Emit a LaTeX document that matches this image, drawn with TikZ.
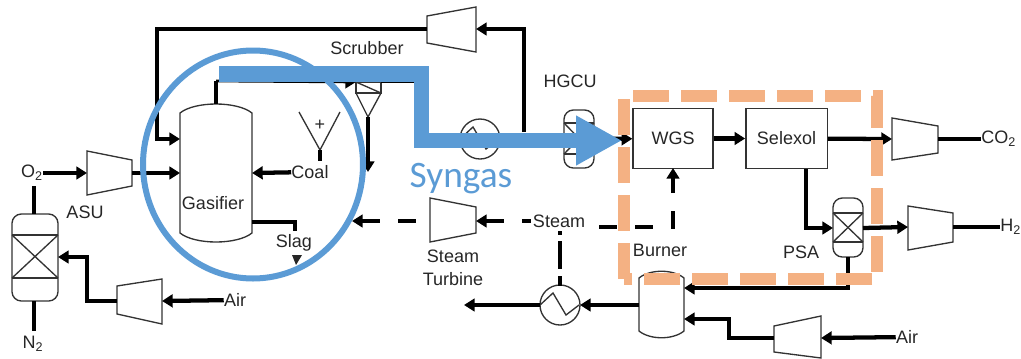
\documentclass[tikz,border=0pt]{standalone}
\usepackage{fontspec}
\setmainfont{Liberation Sans}
\newfontfamily\syngasfont{Carlito}
\usetikzlibrary{arrows.meta}
\definecolor{syngasblue}{HTML}{5B9BD5}
\definecolor{boxorange}{HTML}{F4B183}
\tikzset{
    unit/.style={line width=1pt, draw=black!80},
    pipe/.style={line width=3.2pt},
    flow/.style={pipe, -{Triangle[length=8pt,width=9.5pt]}},
    steamflow/.style={pipe, dash pattern=on 13.5pt off 13.5pt},
    steamtip/.style={{Triangle[length=8pt,width=9.5pt]}-},
    label/.style={font=\fontsize{13.5}{17.25}\selectfont, text=black!85, inner sep=0pt, align=center},
    unitbox/.style={unit, label, draw, minimum width=60pt, minimum height=45pt}
}
\begin{document}
\begin{tikzpicture}[x=0.75pt, y=-0.75pt]
        \useasboundingbox (0, 0) rectangle (1021, 358);

        % Draw the air separation column
        \draw[unit, rounded corners=7pt] (12, 214) rectangle (58, 301);
        \draw[unit] (12, 235) -- (58, 235) (12, 278) -- (58, 278);
        \draw[unit] (12, 235) -- (58, 278) (58, 235) -- (12, 278);
        \coordinate (asutop) at (34, 214);
        \coordinate (asubottom) at (34, 301);
        \coordinate (asuright) at (58, 257);
        \coordinate (oxyfoot) at (34, 186);
        \coordinate (nitrofoot) at (34, 331);

        % Draw the compressors
        \draw[unit] (87, 151) -- (132, 160) -- (132, 186) -- (87, 195) -- cycle;
        \coordinate (asuin) at (87, 173);
        \coordinate (asuout) at (132, 173);

        \draw[unit] (117, 286) -- (162, 279) -- (162, 324) -- (117, 314) -- cycle;
        \coordinate (airout) at (117, 301);
        \coordinate (airin) at (162, 301);

        \draw[unit] (427, 16) -- (476, 7) -- (476, 52) -- (427, 43) -- cycle;
        \coordinate (recycleout) at (427, 29);
        \coordinate (recyclein) at (476, 29);

        \draw[unit] (430, 198) -- (476, 207) -- (476, 233) -- (430, 242) -- cycle;
        \coordinate (turbout) at (430, 221);
        \coordinate (turbin) at (476, 221);

        \draw[unit] (892, 118) -- (938, 126) -- (938, 153) -- (892, 160) -- cycle;
        \coordinate (cotwoin) at (892, 139);
        \coordinate (cotwoout) at (938, 139);

        \draw[unit] (908, 206) -- (953, 213) -- (953, 242) -- (908, 250) -- cycle;
        \coordinate (htwoin) at (908, 227);
        \coordinate (htwoout) at (953, 227);

        \draw[unit] (774, 326) -- (821, 316) -- (821, 358) -- (774, 352) -- cycle;
        \coordinate (burnairout) at (774, 338);
        \coordinate (burnairin) at (821, 338);

        % Draw the gasifier
        \draw[unit] (180, 113) .. controls (195, 101) and (237, 101) .. (252, 113)
            -- (252, 233) .. controls (237, 245) and (195, 245) .. (180, 233) -- cycle;
        \coordinate (gastop) at (216, 104);
        \coordinate (gasrecycle) at (180, 139);
        \coordinate (gasoxygen) at (180, 173);
        \coordinate (gascoal) at (252, 173);
        \coordinate (gasslag) at (252, 222);
        \coordinate (gasbend) at (216, 81);

        % Draw the coal hopper
        \draw[unit] (299, 112) -- (320, 150) -- (340, 112);
        \node[label] (plus) at (320, 125) {+};
        \coordinate (hopper) at (320, 150);
        \coordinate (hopperfoot) at (320, 161);

        % Draw the scrubber
        \draw[unit] (356, 82) rectangle (381, 93);
        \draw[unit] (356, 82) -- (381, 93);
        \draw[unit] (356, 93) -- (368, 117) -- (381, 93);
        \coordinate (scrubin) at (356, 82);
        \coordinate (scrubout) at (381, 82);
        \coordinate (scrubbottom) at (368, 117);
        \coordinate (scrubend) at (368, 172);
        \coordinate (scrubbend) at (414, 82);

        % Draw the heat exchangers
        \draw[unit] (480, 139) circle (20);
        \draw[unit] (460, 139) -- (473, 127) -- (486, 149) -- (499, 139);
        \coordinate (hxtop) at (524, 132);

        \draw[unit] (560, 305) circle (20);
        \draw[unit] (540, 305) -- (553, 293) -- (566, 315) -- (579, 305);
        \coordinate (hxleft) at (540, 305);
        \coordinate (hxright) at (580, 305);
        \coordinate (hxsteam) at (560, 286);
        \coordinate (hxend) at (464, 305);

        % Draw the HGCU and PSA vessels
        \draw[unit, rounded corners=7pt] (564, 110) rectangle (594, 168);
        \draw[unit] (564, 123) -- (594, 123) (564, 154) -- (594, 154);
        \draw[unit] (564, 123) -- (594, 154) (594, 123) -- (564, 154);
        \coordinate (hgcuout) at (594, 139);

        \draw[unit, rounded corners=7pt] (833, 198) rectangle (863, 257);
        \draw[unit] (833, 213) -- (863, 213) (833, 242) -- (863, 242);
        \draw[unit] (833, 213) -- (863, 242) (863, 213) -- (833, 242);
        \coordinate (psain) at (833, 228);
        \coordinate (psaout) at (863, 228);
        \coordinate (psabottom) at (848, 257);
        \coordinate (selexdown) at (806, 169);

        % Draw the burner
        \draw[unit] (639, 278) .. controls (650, 269) and (673, 269) .. (684, 278)
            -- (684, 331) .. controls (673, 340) and (650, 340) .. (639, 331) -- cycle;
        \coordinate (burnerleft) at (639, 305);
        \coordinate (burnertail) at (684, 288);
        \coordinate (burnerair) at (684, 319);

        % Draw the shift and Selexol boxes
        \node[unitbox] (wgs) at (673, 138.5) {WGS};
        \node[unitbox, minimum width=61pt] (selexol) at (786.5, 138.5) {Selexol};
        \coordinate (wgsbottom) at (673, 168);

        % Label the streams and the units
        \node[label] (oxygen) at (32, 173) {O\textsubscript{2}};
        \node[label] (nitrogen) at (33, 344) {N\textsubscript{2}};
        \node[label] (asu) at (85, 212) {ASU};
        \node[label] (air) at (235, 300) {Air};
        \node[label] (gasifier) at (213, 203) {Gasifier};
        \node[label] (coal) at (310, 172) {Coal};
        \node[label] (slag) at (294, 243) {Slag};
        \node[label] (scrubber) at (367, 48) {Scrubber};
        \node[label] (hgcu) at (570, 81) {HGCU};
        \node[label] (steam) at (559, 221) {Steam};
        \node[label] (turbine) at (453, 268) {Steam\\Turbine};
        \node[label] (burner) at (660, 250) {Burner};
        \node[label] (psa) at (801, 252) {PSA};
        \node[label, anchor=west] (cotwo) at (981, 139) {CO\textsubscript{2}};
        \node[label, anchor=west] (htwo) at (1000, 227) {H\textsubscript{2}};
        \node[label] (burnair) at (907, 337) {Air};
        \coordinate (steamleft) at (531, 221);
        \coordinate (steamright) at (599, 227);
        \coordinate (steamdown) at (560, 231);
        \coordinate (slagend) at (295, 231);
        \coordinate (turbend) at (352, 221);
        \coordinate (recyclebend) at (157, 139);
        \coordinate (airbend) at (87, 257);
        \coordinate (burnairbend) at (729, 319);

        % Draw the arrows between the units
        \draw[flow] (oxygen) -- (asuin);
        \draw[flow] (asuout) -- (gasoxygen);
        \draw[pipe] (oxyfoot) -- (asutop);
        \draw[pipe] (asubottom) -- (nitrofoot);
        \draw[flow] (airout) -| (airbend) -- (asuright);
        \draw[flow] (air) -- (airin);
        \draw[flow] (recycleout) -| (recyclebend) -- (gasrecycle);
        \draw[flow] (hxtop) |- (recyclein);
        \draw[flow] (coal) -- (gascoal);
        \draw[pipe] (hopper) -- (hopperfoot);
        \draw[pipe] (gasslag) -| (slagend);
        \fill[black!85] (292, 255) -- (302, 255) -- (296, 265) -- cycle;
        \draw[pipe] (gastop) -- (gasbend);
        \draw[flow, line width=2pt] (gasbend) -- (scrubin);
        \draw[line width=2pt] (scrubout) -- (scrubbend);
        \draw[flow] (scrubbottom) -- (scrubend);
        \draw[flow] (hgcuout) -- (wgs);
        \draw[flow] (wgs) -- (selexol);
        \draw[flow] (selexol) -- (cotwoin);
        \draw[pipe] (cotwoout) -- (cotwo);
        \draw[flow] (selexdown) |- (psain);
        \draw[flow] (psaout) -- (htwoin);
        \draw[pipe] (htwoout) -- (htwo);
        \draw[flow] (psabottom) |- (burnertail);
        \draw[flow] (burnerleft) -- (hxright);
        \draw[flow] (hxleft) -- (hxend);
        \draw[flow] (burnair) -- (burnairin);
        \draw[flow] (burnairout) -| (burnairbend) -- (burnerair);

        % Draw the steam lines
        \draw[steamflow, steamtip] (turbin) -- (steamleft);
        \draw[steamflow, steamtip] (turbend) -- (turbout);
        \draw[steamflow, flow] (steamright) -| (wgsbottom);
        \draw[pipe, dash pattern=on 3pt off 4.5pt on 21pt off 5.25pt on 7.5pt off 9pt] (steamdown) -- (hxsteam);

        % Draw the dashed outline and the gasifier circle
        \draw[boxorange, line width=9pt, dash pattern=on 27pt off 9pt] (624, 279) -- (624, 96) -- (877, 96) -- (877, 279) -- (624, 279);
        \draw[syngasblue, line width=4.5pt] (253, 164.5) ellipse (110 and 114);

        % Draw the syngas arrow
        \draw[syngasblue, line width=11.6pt, -{Triangle[length=34.5pt,width=35pt]}] (219, 74) -- (421.5, 74) -- (421.5, 140.5) -- (622, 140.5);
        \node[font=\syngasfont\fontsize{28}{30}\selectfont, text=syngasblue, inner sep=0pt] (syngas) at (461, 179) {Syngas};
    \end{tikzpicture}
\end{document}
